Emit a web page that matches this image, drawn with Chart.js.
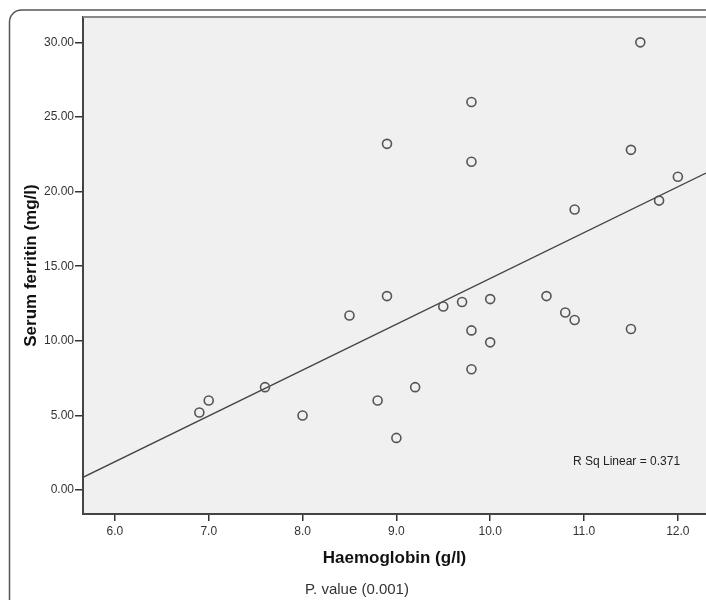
<!DOCTYPE html>
<html>
<head>
<meta charset="utf-8">
<title>Serum ferritin vs Haemoglobin</title>
<script src="https://cdn.jsdelivr.net/npm/chart.js@4.4.1/dist/chart.umd.min.js"></script>
<style>
  html, body { margin: 0; padding: 0; background: #fff; overflow: hidden; }
  #wrap { width: 706px; height: 600px; }
</style>
</head>
<body>
<div id="wrap"><canvas id="scatterChart" width="706" height="600"></canvas></div>
<script>
// haemoglobin (g/l) per patient
const haemoglobin = [6.9, 7.0, 7.6, 8.0, 8.5, 8.8, 8.9, 8.9, 9.0, 9.2, 9.5, 9.7, 9.8, 9.8, 9.8, 9.8,
  10.0, 10.0, 10.6, 10.8, 10.9, 10.9, 11.5, 11.5, 11.6, 11.8, 12.0];
// serum ferritin (mg/l), same order
const ferritin = [5.2, 6.0, 6.9, 5.0, 11.7, 6.0, 13.0, 23.2, 3.5, 6.9, 12.3, 12.6, 26.0, 22.0, 10.7, 8.1,
  12.8, 9.9, 13.0, 11.9, 11.4, 18.8, 22.8, 10.8, 30.0, 19.4, 21.0];

const xTicks = [6, 7, 8, 9, 10, 11, 12];
const yTicks = [0, 5, 10, 15, 20, 25, 30];
const xRange = [5.66, 12.30];
const yRange = [-1.6, 31.7];

const rsqLabel = "R Sq Linear = 0.371";
const pValueLabel = "P. value (0.001)";

const FONT = "Arial, 'Liberation Sans', sans-serif";

// least squares fit of ferritin on haemoglobin
function linearFit(xs, ys) {
  const n = xs.length;
  const mx = xs.reduce((a, b) => a + b, 0) / n;
  const my = ys.reduce((a, b) => a + b, 0) / n;
  let sxy = 0, sxx = 0;
  for (let i = 0; i < n; i++) {
    sxy += (xs[i] - mx) * (ys[i] - my);
    sxx += (xs[i] - mx) * (xs[i] - mx);
  }
  const slope = sxy / sxx;
  return { slope, intercept: my - slope * mx };
}

const fit = linearFit(haemoglobin, ferritin);
const points = haemoglobin.map((h, i) => ({ x: h, y: ferritin[i] }));
const fitLine = xRange.map(x => ({ x, y: fit.intercept + fit.slope * x }));

const framePlugin = {
  id: "frame",
  beforeDraw(chart) {
    const { ctx, chartArea: a } = chart;
    ctx.save();
    ctx.fillStyle = "#fff";
    ctx.fillRect(0, 0, chart.width, chart.height);
    // outer rounded frame, cut off on the right and bottom
    ctx.strokeStyle = "#555";
    ctx.lineWidth = 1.5;
    ctx.beginPath();
    ctx.roundRect(9.5, 10, chart.width + 40, chart.height + 40, 12);
    ctx.stroke();
    ctx.fillStyle = "#f0f0f0";
    ctx.fillRect(a.left, a.top, a.right - a.left, a.bottom - a.top);
    ctx.restore();
  },
  afterDraw(chart) {
    const { ctx, chartArea: a } = chart;
    ctx.save();
    ctx.strokeStyle = "#888";
    ctx.lineWidth = 2;
    ctx.beginPath();
    ctx.moveTo(a.left, a.top);
    ctx.lineTo(a.right, a.top);
    ctx.stroke();
    ctx.fillStyle = "#222";
    ctx.font = "12px " + FONT;
    ctx.textBaseline = "middle";
    ctx.textAlign = "left";
    ctx.fillText(rsqLabel, a.right - 133, a.bottom - 52);
    ctx.font = "15px " + FONT;
    ctx.fillStyle = "#333";
    ctx.fillText(pValueLabel, a.left + 222, 590);
    ctx.restore();
  }
};

new Chart(document.getElementById("scatterChart").getContext("2d"), {
  type: "scatter",
  data: {
    datasets: [{
      data: points,
      pointRadius: 4.5,
      pointHoverRadius: 4.5,
      pointBorderWidth: 1.6,
      borderColor: "#555",
      backgroundColor: "rgba(0,0,0,0)"
    }, {
      type: "line",
      data: fitLine,
      borderColor: "#444",
      borderWidth: 1.3,
      pointRadius: 0,
      fill: false
    }]
  },
  options: {
    responsive: false,
    animation: false,
    layout: { autoPadding: false, padding: { top: 17, left: 0, right: 0, bottom: 0 } },
    plugins: { legend: { display: false }, tooltip: { enabled: false } },
    scales: {
      x: {
        type: "linear",
        min: xRange[0],
        max: xRange[1],
        afterBuildTicks: s => { s.ticks = xTicks.map(v => ({ value: v })); },
        afterFit: s => { s.height = 86; },
        ticks: {
          color: "#333",
          padding: 3,
          font: { family: FONT, size: 12 },
          callback: v => v.toFixed(1)
        },
        grid: { drawOnChartArea: false, drawTicks: true, tickLength: 7, color: "#333", lineWidth: 1.5 },
        border: { display: true, color: "#444", width: 2 },
        title: {
          display: true,
          text: "Haemoglobin (g/l)",
          color: "#111",
          font: { family: FONT, size: 17, weight: "bold" },
          padding: { top: 0, bottom: 31 }
        }
      },
      y: {
        type: "linear",
        min: yRange[0],
        max: yRange[1],
        afterBuildTicks: s => { s.ticks = yTicks.map(v => ({ value: v })); },
        afterFit: s => { s.width = 83; },
        ticks: {
          color: "#333",
          padding: 1,
          font: { family: FONT, size: 12 },
          callback: v => v.toFixed(2)
        },
        grid: { drawOnChartArea: false, drawTicks: true, tickLength: 8, color: "#333", lineWidth: 1.5 },
        border: { display: true, color: "#444", width: 2 },
        title: {
          display: true,
          text: "Serum ferritin (mg/l)",
          color: "#111",
          font: { family: FONT, size: 17, weight: "bold" },
          padding: { top: 21, bottom: 0 }
        }
      }
    }
  },
  plugins: [framePlugin]
});
</script>
</body>
</html>
